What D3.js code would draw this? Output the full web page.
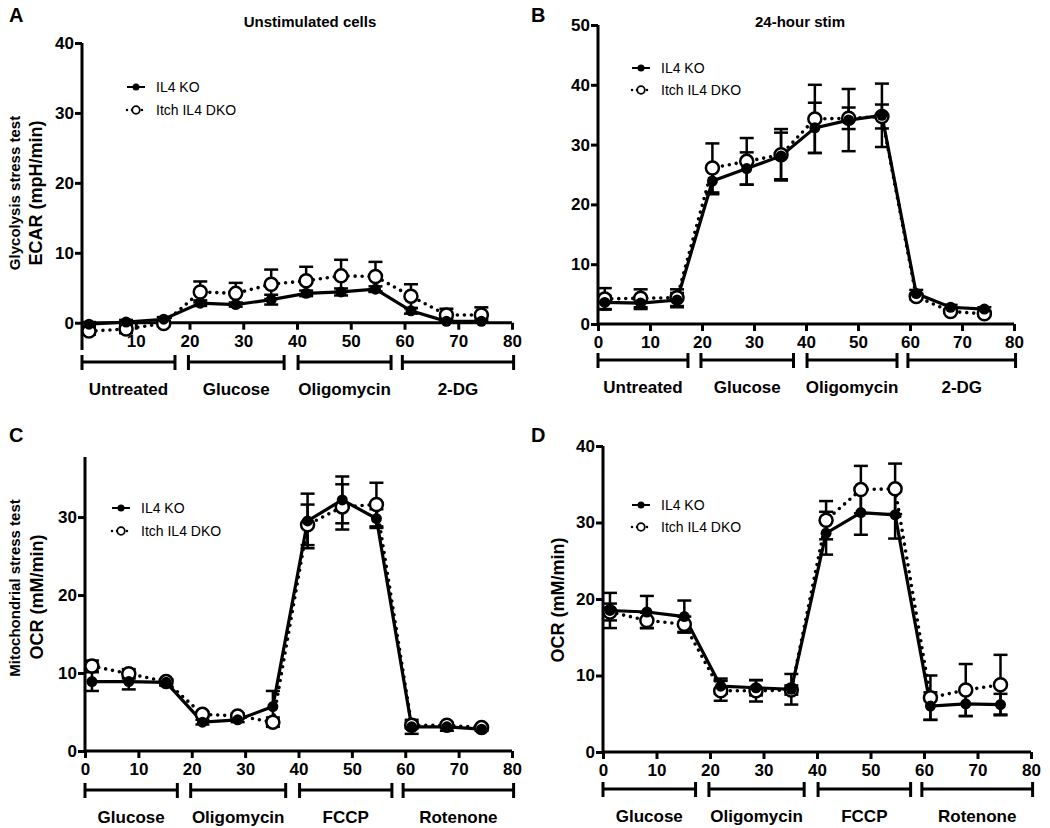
<!DOCTYPE html>
<html><head><meta charset="utf-8">
<script src="https://cdn.jsdelivr.net/npm/d3@7"></script>
<style>
body{margin:0;background:#fff;}
svg{display:block;}
text{font-family:"Liberation Sans",Arial,Helvetica,sans-serif;fill:#000;}
</style></head>
<body>
<svg id="c" width="1050" height="828"></svg>
<script>
// ---------- data ----------
const times = [1.3, 8.2, 15.2, 22, 28.6, 35.2, 41.7, 48.2, 54.6, 61.2, 67.8, 74.3];
const seriesNames = ["IL4 KO", "Itch IL4 DKO"];
const xTicks = [0, 10, 20, 30, 40, 50, 60, 70, 80];

// Panel A: glycolysis, unstimulated
const aKO     = [-0.2, 0.1, 0.5, 2.8, 2.6, 3.3, 4.2, 4.4, 4.8, 1.7, 0.2, 0.2];
const aKOerr  = [0.3, 0.3, 0.3, 0.4, 0.3, 0.7, 0.4, 0.5, 0.4, 0.4, 0.2, 0.2];
const aDKO    = [-1.2, -0.9, -0.1, 4.4, 4.2, 5.5, 6.0, 6.7, 6.6, 3.8, 1.1, 1.1];
const aDKOerr = [0.5, 0.6, 0.4, 1.5, 1.5, 2.1, 2.0, 2.3, 2.1, 1.7, 0.9, 1.1];
const aTreat  = ["Untreated", "Glucose", "Oligomycin", "2-DG"];

// Panel B: glycolysis, 24-hour stim
const bKO     = [3.6, 3.5, 4.0, 23.9, 26.0, 28.1, 32.8, 34.1, 34.9, 5.1, 2.8, 2.5];
const bKOerr  = [1.1, 1.0, 1.2, 2.2, 2.7, 3.9, 4.2, 5.2, 5.3, 0.6, 0.4, 0.3];
const bDKO    = [4.2, 4.3, 4.4, 26.1, 27.2, 28.3, 34.3, 34.4, 34.7, 4.6, 2.1, 1.7];
const bDKOerr = [1.8, 1.5, 1.4, 4.1, 3.9, 4.3, 5.7, 1.8, 2.0, 0.5, 0.3, 0.3];
const bTreat  = ["Untreated", "Glucose", "Oligomycin", "2-DG"];

// Panel C: mitochondrial, unstimulated
const cKO     = [8.9, 8.9, 8.8, 3.7, 4.0, 5.7, 29.5, 32.2, 29.8, 3.1, 3.1, 2.8];
const cKOerr  = [1.2, 1.0, 0.4, 0.3, 0.3, 2.0, 3.5, 3.0, 1.2, 0.9, 0.5, 0.2];
const cDKO    = [10.9, 9.9, 8.9, 4.7, 4.5, 3.7, 29.0, 31.3, 31.6, 3.3, 3.3, 3.0];
const cDKOerr = [0.7, 0.6, 0.3, 0.3, 0.3, 0.6, 2.6, 2.9, 2.8, 0.4, 0.3, 0.2];
const cTreat  = ["Glucose", "Oligomycin", "FCCP", "Rotenone"];

// Panel D: mitochondrial, 24-hour stim
const dKO     = [18.5, 18.3, 17.7, 8.6, 8.4, 8.2, 28.6, 31.3, 31.0, 6.0, 6.3, 6.2];
const dKOerr  = [2.3, 2.1, 2.1, 1.0, 1.0, 2.0, 2.8, 2.9, 3.1, 1.8, 1.6, 1.4];
const dDKO    = [18.3, 17.2, 16.7, 8.0, 8.0, 8.1, 30.3, 34.3, 34.4, 7.1, 8.1, 8.8];
const dDKOerr = [1.1, 1.0, 1.0, 1.3, 1.4, 0.6, 2.5, 3.1, 3.3, 2.9, 3.4, 3.9];
const dTreat  = ["Glucose", "Oligomycin", "FCCP", "Rotenone"];

// treatment windows (x units)
const treatWindows = [[0, 17.3], [19.8, 37.6], [40.2, 57.5], [59.6, 80.3]];

// ---------- drawing ----------
const svg = d3.select("#c");
const FONT = '"Liberation Sans",Arial,Helvetica,sans-serif';

function panel(o) {
  const g = svg.append("g");
  const x = d3.scaleLinear().domain([0, 80]).range(o.xr);
  const y = d3.scaleLinear().domain(o.yd).range(o.yr);
  const y0 = y(0);

  // y axis
  const yAx = d3.axisLeft(y).tickValues(o.yTicks).tickSize(7).tickPadding(1).tickFormat(d3.format("d"));
  const ga = g.append("g").attr("transform", `translate(${o.xr[0]},0)`).call(yAx);
  ga.select(".domain").remove();
  g.append("line").attr("x1", o.xr[0]).attr("x2", o.xr[0]).attr("y1", o.yr[1]).attr("y2", o.yr[0])
    .attr("stroke", "#000").attr("stroke-width", 3);
  ga.selectAll(".tick line").attr("stroke-width", 3);
  ga.selectAll(".tick text").style("font-size", "17px").style("font-weight", "bold").style("font-family", FONT);

  // x axis
  const xAx = d3.axisBottom(x).tickValues(o.xTicks).tickSize(7).tickPadding(5).tickFormat(d3.format("d"));
  const gx = g.append("g").attr("transform", `translate(0,${y0})`).call(xAx);
  gx.select(".domain").remove();
  g.append("line").attr("x1", o.xr[0]).attr("x2", o.xr[1]).attr("y1", y0).attr("y2", y0)
    .attr("stroke", "#000").attr("stroke-width", 3);
  gx.selectAll(".tick line").attr("stroke-width", 3);
  gx.selectAll(".tick text").style("font-size", "17px").style("font-weight", "bold").style("font-family", FONT);

  // treatment brackets
  treatWindows.forEach((w, i) => {
    const x1 = x(w[0]), x2 = x(w[1]);
    g.append("line").attr("x1", x1).attr("x2", x2).attr("y1", o.brY).attr("y2", o.brY)
      .attr("stroke", "#000").attr("stroke-width", 3);
    [x1, x2].forEach(xx => g.append("line").attr("x1", xx).attr("x2", xx)
      .attr("y1", o.brY - 7).attr("y2", o.brY + 8).attr("stroke", "#000").attr("stroke-width", 3));
    g.append("text").attr("x", (x1 + x2) / 2).attr("y", o.brY + 33).attr("text-anchor", "middle")
      .style("font-size", "17px").style("font-weight", "bold").text(o.treat[i]);
  });

  const ptsKO = times.map((t, i) => ({ t, v: o.ko[i], e: o.koE[i] }));
  const ptsDKO = times.map((t, i) => ({ t, v: o.dko[i], e: o.dkoE[i] }));
  const line = d3.line().x(d => x(d.t)).y(d => y(d.v));

  function errbars(pts) {
    const eg = g.append("g").attr("stroke", "#000").attr("stroke-width", 2.5);
    pts.forEach(d => {
      const cx = x(d.t), ya = y(d.v - d.e), yb = y(d.v + d.e);
      eg.append("line").attr("x1", cx).attr("x2", cx).attr("y1", ya).attr("y2", yb);
      eg.append("line").attr("x1", cx - 7).attr("x2", cx + 7).attr("y1", ya).attr("y2", ya);
      eg.append("line").attr("x1", cx - 7).attr("x2", cx + 7).attr("y1", yb).attr("y2", yb);
    });
  }

  g.append("path").datum(ptsKO).attr("d", line).attr("fill", "none").attr("stroke", "#000").attr("stroke-width", 3.2);
  g.append("path").datum(ptsDKO).attr("d", line).attr("fill", "none").attr("stroke", "#000")
    .attr("stroke-width", 3.6).attr("stroke-dasharray", "0 7").attr("stroke-linecap", "round");
  errbars(ptsDKO);
  errbars(ptsKO);
  g.selectAll(null).data(ptsDKO).enter().append("circle").attr("cx", d => x(d.t)).attr("cy", d => y(d.v))
    .attr("r", 6.5).attr("fill", "#fff").attr("stroke", "#000").attr("stroke-width", 2.5);
  g.selectAll(null).data(ptsKO).enter().append("circle").attr("cx", d => x(d.t)).attr("cy", d => y(d.v))
    .attr("r", 5.5).attr("fill", "#000");

  // legend
  const L = o.leg;
  seriesNames.forEach((nm, i) => {
    const ly = L.y + i * L.dy;
    if (i === 0) {
      g.append("line").attr("x1", L.x).attr("x2", L.x + 18).attr("y1", ly).attr("y2", ly).attr("stroke", "#000").attr("stroke-width", 2);
      g.append("circle").attr("cx", L.x + 9).attr("cy", ly).attr("r", 3.5).attr("fill", "#000");
    } else {
      g.append("line").attr("x1", L.x).attr("x2", L.x + 18).attr("y1", ly).attr("y2", ly).attr("stroke", "#000")
        .attr("stroke-width", 2.5).attr("stroke-dasharray", "0 5").attr("stroke-linecap", "round");
      g.append("circle").attr("cx", L.x + 9).attr("cy", ly).attr("r", 3.8).attr("fill", "#fff").attr("stroke", "#000").attr("stroke-width", 1.8);
    }
    g.append("text").attr("x", L.x + 29).attr("y", ly + 5).style("font-size", "14px").text(nm);
  });

  // panel letter
  g.append("text").attr("x", o.letter[0]).attr("y", o.letter[1]).style("font-size", "20px").style("font-weight", "bold").text(o.letter[2]);
  // title
  if (o.title) g.append("text").attr("x", o.title[0]).attr("y", o.title[1]).attr("text-anchor", "middle")
    .style("font-size", "15px").style("font-weight", "bold").text(o.title[2]);
  // y labels
  o.ylabels.forEach(l => {
    g.append("text").attr("transform", `translate(${l[0]},${l[1]}) rotate(-90)`).attr("text-anchor", "middle")
      .attr("dominant-baseline", "central").style("font-size", l[3] + "px").style("font-weight", "bold").text(l[2]);
  });
}

panel({
  xr: [82, 512], yd: [-3.9, 40], yr: [350, 43], yTicks: [0, 10, 20, 30, 40], xTicks: xTicks.slice(1),
  ko: aKO, koE: aKOerr, dko: aDKO, dkoE: aDKOerr, treat: aTreat, brY: 362,
  leg: { x: 127, y: 87, dy: 23 }, letter: [9, 22, "A"], title: [310, 27, "Unstimulated cells"],
  ylabels: [[14, 193, "Glycolysis stress test", 15], [36, 193, "ECAR (mpH/min)", 18]]
});
panel({
  xr: [598, 1014], yd: [0, 50], yr: [324, 25], yTicks: [0, 10, 20, 30, 40, 50], xTicks: xTicks,
  ko: bKO, koE: bKOerr, dko: bDKO, dkoE: bDKOerr, treat: bTreat, brY: 360,
  leg: { x: 632, y: 68, dy: 22 }, letter: [531, 22, "B"], title: [800, 27, "24-hour stim"],
  ylabels: []
});
panel({
  xr: [85, 512], yd: [0, 37.7], yr: [751, 457], yTicks: [0, 10, 20, 30], xTicks: xTicks,
  ko: cKO, koE: cKOerr, dko: cDKO, dkoE: cDKOerr, treat: cTreat, brY: 790,
  leg: { x: 112, y: 508, dy: 23 }, letter: [9, 442, "C"], title: null,
  ylabels: [[14, 588, "Mitochondrial stress test", 15], [37, 597, "OCR (mM/min)", 18]]
});
panel({
  xr: [603, 1031], yd: [0, 40], yr: [752, 446], yTicks: [0, 10, 20, 30, 40], xTicks: xTicks,
  ko: dKO, koE: dKOerr, dko: dDKO, dkoE: dDKOerr, treat: dTreat, brY: 789,
  leg: { x: 632, y: 505, dy: 22 }, letter: [531, 442, "D"], title: null,
  ylabels: [[558, 600, "OCR (mM/min)", 18]]
});
</script>
</body></html>
